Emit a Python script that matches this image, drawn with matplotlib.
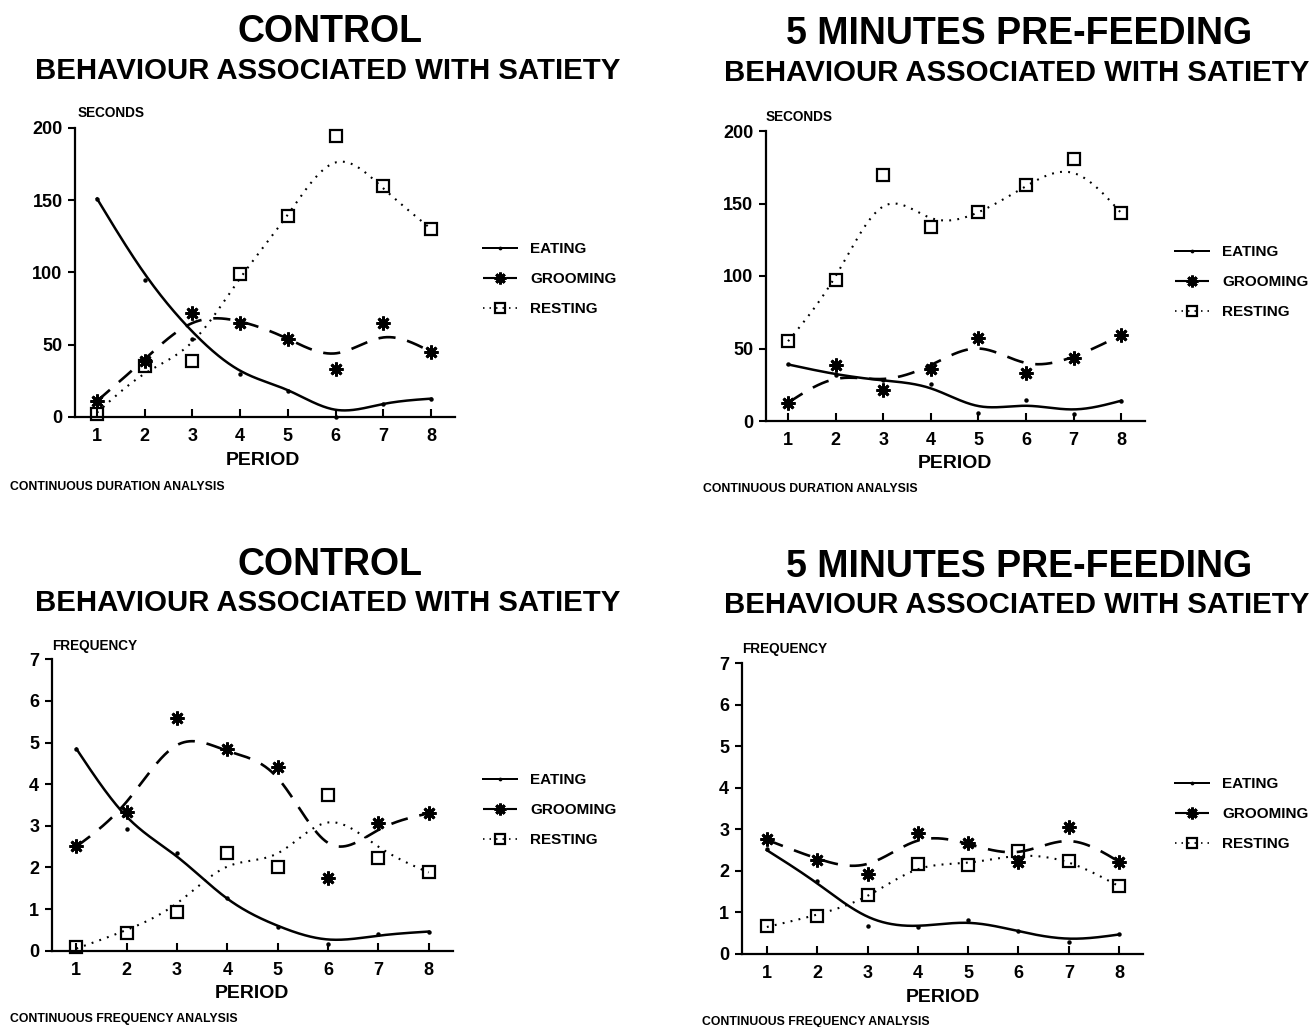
import numpy as np
import matplotlib
matplotlib.use("Agg")
import matplotlib.pyplot as plt
from matplotlib.lines import Line2D

# ---------------- data ----------------
periods = [1, 2, 3, 4, 5, 6, 7, 8]
behaviours = ["EATING", "GROOMING", "RESTING"]

# Panel A: Control, duration (seconds)
ctl_dur_eating_pts = [151, 95, 54, 29.5, 18, 0, 9.3, 12.7]
ctl_dur_grooming_pts = [11, 38.5, 72, 65, 54, 33.5, 65.3, 44.6]
ctl_dur_resting_pts = [2, 35, 38.5, 98.7, 139, 194, 159.7, 130]
ctl_dur_eating_fit = [151, 99, 59, 32, 18.5, 5, 9, 12.7]
ctl_dur_grooming_fit = [11, 40, 65, 66, 54, 44, 55, 45]
ctl_dur_resting_fit = [3, 30, 52, 96, 140, 176, 158, 130]

# Panel B: 5 minutes pre-feeding, duration (seconds)
pre_dur_eating_pts = [39, 31.5, 28, 25.7, 5.7, 14.7, 4.6, 13.8]
pre_dur_grooming_pts = [12.6, 38.4, 21.6, 35.9, 57, 32.9, 43.2, 59.3]
pre_dur_resting_pts = [55, 97.5, 170, 133.6, 144, 163, 181, 143.4]
pre_dur_eating_fit = [39, 32.4, 28, 22.5, 10.3, 10.5, 8, 14]
pre_dur_grooming_fit = [12.6, 29, 29, 38.6, 50, 40, 44.4, 59.3]
pre_dur_resting_fit = [55, 100, 148, 140, 144, 162, 171, 143.4]

# Panel C: Control, frequency
ctl_frq_eating_pts = [4.85, 2.92, 2.34, 1.26, 0.58, 0.16, 0.39, 0.46]
ctl_frq_grooming_pts = [2.52, 3.34, 5.58, 4.84, 4.42, 1.74, 3.06, 3.3]
ctl_frq_resting_pts = [0.09, 0.42, 0.93, 2.34, 2.0, 3.74, 2.23, 1.88]
ctl_frq_eating_fit = [4.85, 3.22, 2.26, 1.25, 0.6, 0.27, 0.36, 0.46]
ctl_frq_grooming_fit = [2.5, 3.58, 4.94, 4.8, 4.15, 2.59, 2.9, 3.3]
ctl_frq_resting_fit = [0.05, 0.5, 1.14, 2.02, 2.34, 3.08, 2.5, 1.88]

# Panel D: 5 minutes pre-feeding, frequency
pre_frq_eating_pts = [2.52, 1.76, 0.67, 0.66, 0.82, 0.56, 0.3, 0.47]
pre_frq_grooming_pts = [2.77, 2.26, 1.92, 2.92, 2.67, 2.22, 3.07, 2.22]
pre_frq_resting_pts = [0.67, 0.92, 1.41, 2.16, 2.14, 2.48, 2.23, 1.64]
pre_frq_eating_fit = [2.5, 1.7, 0.9, 0.68, 0.75, 0.55, 0.37, 0.47]
pre_frq_grooming_fit = [2.75, 2.3, 2.17, 2.73, 2.65, 2.46, 2.72, 2.22]
pre_frq_resting_fit = [0.65, 0.95, 1.4, 2.04, 2.2, 2.36, 2.2, 1.63]

dur_ticks = [0, 50, 100, 150, 200]
frq_ticks = [0, 1, 2, 3, 4, 5, 6, 7]

# ---------------- helpers ----------------
def natural_spline(x, y, xs):
    x = np.asarray(x, float); y = np.asarray(y, float)
    n = len(x)
    h = np.diff(x)
    A = np.zeros((n, n)); b = np.zeros(n)
    A[0, 0] = 1; A[-1, -1] = 1
    for i in range(1, n - 1):
        A[i, i - 1] = h[i - 1]
        A[i, i] = 2 * (h[i - 1] + h[i])
        A[i, i + 1] = h[i]
        b[i] = 6 * ((y[i + 1] - y[i]) / h[i] - (y[i] - y[i - 1]) / h[i - 1])
    M = np.linalg.solve(A, b)
    idx = np.clip(np.searchsorted(x, xs) - 1, 0, n - 2)
    x0 = x[idx]; x1 = x[idx + 1]; hh = x1 - x0
    t0 = x1 - xs; t1 = xs - x0
    return (M[idx] * t0 ** 3 / (6 * hh) + M[idx + 1] * t1 ** 3 / (6 * hh)
            + (y[idx] / hh - M[idx] * hh / 6) * t0
            + (y[idx + 1] / hh - M[idx + 1] * hh / 6) * t1)

FONT = ["Liberation Sans", "DejaVu Sans"]
plt.rcParams["font.family"] = FONT
plt.rcParams["font.weight"] = "bold"

W, H = 1313, 1027
fig = plt.figure(figsize=(W / 100, H / 100), dpi=100)

def fx(px):
    return px / W

def fy(py):
    return 1 - py / H

panels = [
    dict(rect=(75, 127.7, 455, 417), xlim=(0.54, 8.5), ylim=(0, 200), ticks=dur_ticks,
         ylabel="SECONDS", ylab_xy=(78, 113), title="CONTROL", title_xy=(330, 32), sub_xy=(328, 71),
         period_xy=(263, 460), foot="CONTINUOUS DURATION ANALYSIS", foot_xy=(10, 487), leg_xy=(483, 242),
         pts=(ctl_dur_eating_pts, ctl_dur_grooming_pts, ctl_dur_resting_pts),
         fit=(ctl_dur_eating_fit, ctl_dur_grooming_fit, ctl_dur_resting_fit)),
    dict(rect=(765.7, 131, 1145, 421), xlim=(0.53, 8.5), ylim=(0, 200), ticks=dur_ticks,
         ylabel="SECONDS", ylab_xy=(766, 117), title="5 MINUTES PRE-FEEDING", title_xy=(1019, 34), sub_xy=(1017, 73),
         period_xy=(955, 464), foot="CONTINUOUS DURATION ANALYSIS", foot_xy=(703, 489), leg_xy=(1175, 245),
         pts=(pre_dur_eating_pts, pre_dur_grooming_pts, pre_dur_resting_pts),
         fit=(pre_dur_eating_fit, pre_dur_grooming_fit, pre_dur_resting_fit)),
    dict(rect=(51.7, 659.3, 453.3, 950.7), xlim=(0.51, 8.49), ylim=(0, 7), ticks=frq_ticks,
         ylabel="FREQUENCY", ylab_xy=(52, 646), title="CONTROL", title_xy=(330, 565), sub_xy=(328, 603),
         period_xy=(252, 994), foot="CONTINUOUS FREQUENCY ANALYSIS", foot_xy=(10, 1019), leg_xy=(483, 773),
         pts=(ctl_frq_eating_pts, ctl_frq_grooming_pts, ctl_frq_resting_pts),
         fit=(ctl_frq_eating_fit, ctl_frq_grooming_fit, ctl_frq_resting_fit)),
    dict(rect=(741.7, 663.3, 1143.3, 954), xlim=(0.5, 8.48), ylim=(0, 7), ticks=frq_ticks,
         ylabel="FREQUENCY", ylab_xy=(742, 649), title="5 MINUTES PRE-FEEDING", title_xy=(1019, 567), sub_xy=(1017, 605),
         period_xy=(943, 998), foot="CONTINUOUS FREQUENCY ANALYSIS", foot_xy=(702, 1022), leg_xy=(1175, 777),
         pts=(pre_frq_eating_pts, pre_frq_grooming_pts, pre_frq_resting_pts),
         fit=(pre_frq_eating_fit, pre_frq_grooming_fit, pre_frq_resting_fit)),
]

styles = [
    dict(ls="-", lw=1.8, marker="o", ms=3.2, mew=0, mfc="black"),
    dict(ls=(0, (6.5, 4.5)), lw=1.9, marker=(8, 2, 0), ms=10, mew=2.0, mfc="black"),
    dict(ls=(0, (0.9, 3.0)), lw=1.5, marker="s", ms=8.0, mew=1.6, mfc="none"),
]

xs = np.linspace(1, 8, 400)
for p in panels:
    l, t, r, b = p["rect"]
    ax = fig.add_axes([fx(l), fy(b), fx(r) - fx(l), fy(t) - fy(b)])
    ax.set_xlim(*p["xlim"]); ax.set_ylim(*p["ylim"])
    for sp in ("top", "right"):
        ax.spines[sp].set_visible(False)
    for sp in ("left", "bottom"):
        ax.spines[sp].set_linewidth(1.6)
    ax.set_xticks(periods)
    ax.set_yticks(p["ticks"])
    ax.tick_params(axis="x", direction="in", length=6, width=1.5, pad=8, labelsize=13)
    ax.tick_params(axis="y", direction="out", length=5, width=1.5, pad=4, labelsize=13)
    for lab in ax.get_xticklabels() + ax.get_yticklabels():
        lab.set_fontweight("bold")
    handles = []
    for name, pts, fit, st in zip(behaviours, p["pts"], p["fit"], styles):
        ys = natural_spline(periods, fit, xs)
        ax.plot(xs, ys, color="black", ls=st["ls"], lw=st["lw"], dash_capstyle="butt", clip_on=False)
        ax.plot(periods, pts, ls="none", marker=st["marker"], ms=st["ms"], mew=st["mew"],
                mec="black", mfc=st["mfc"], color="black", clip_on=False, zorder=3)
        handles.append(Line2D([], [], color="black", ls=st["ls"], lw=st["lw"] * 0.8, marker=st["marker"],
                              ms=st["ms"] * 0.85, mew=st["mew"], mec="black", mfc=st["mfc"], label=name))
    lx, ly = p["leg_xy"]
    fig.legend(handles=handles, loc="upper left", bbox_to_anchor=(fx(lx), fy(ly)), frameon=False,
               handlelength=2.2, handletextpad=0.9, labelspacing=1.05, borderpad=0, borderaxespad=0,
               prop=dict(family=FONT, weight="bold", size=11))
    fig.text(fx(p["ylab_xy"][0]), fy(p["ylab_xy"][1]), p["ylabel"], ha="left", va="center",
             fontsize=9.8, fontweight="bold")
    fig.text(fx(p["title_xy"][0]), fy(p["title_xy"][1]), p["title"], ha="center", va="center",
             fontsize=27, fontweight="bold")
    fig.text(fx(p["sub_xy"][0]), fy(p["sub_xy"][1]), "BEHAVIOUR ASSOCIATED WITH SATIETY", ha="center",
             va="center", fontsize=21.2, fontweight="bold")
    fig.text(fx(p["period_xy"][0]), fy(p["period_xy"][1]), "PERIOD", ha="center", va="center",
             fontsize=14, fontweight="bold")
    fig.text(fx(p["foot_xy"][0]), fy(p["foot_xy"][1]), p["foot"], ha="left", va="center",
             fontsize=8.8, fontweight="bold")

fig.savefig("out.png", dpi=100)
